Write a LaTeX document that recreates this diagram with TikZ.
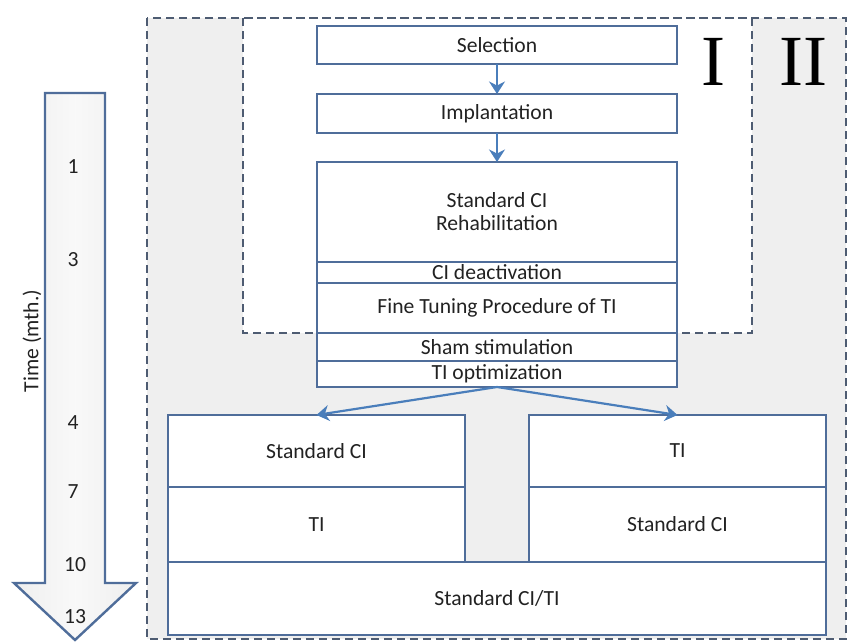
\documentclass[tikz,border=0pt]{standalone}
\usepackage{fontspec}
\setmainfont{Carlito}
\newfontfamily\romanfont{Liberation Serif}
\usetikzlibrary{arrows.meta, positioning}
\definecolor{boxblue}{HTML}{4F6D9A}
\definecolor{arrowblue}{HTML}{4A7EBB}
\definecolor{dashgray}{HTML}{4E5C72}
\definecolor{phasegray}{HTML}{EFEFEF}
\definecolor{textgray}{HTML}{222222}
\tikzset{>={Stealth[width=2.8mm,length=2.2mm]}}
\tikzset{
	stage/.style = {draw = boxblue, line width = 1.2pt, fill = white, inner sep = 0pt, outer sep = 0pt,
		minimum width = 180pt, align = center, text = textgray, font = \fontsize{10.8}{11.5}\selectfont},
	arm/.style = {stage, minimum width = 148.5pt},
	phase/.style = {draw = dashgray, line width = 1.1pt, dash pattern = on 4pt off 2.5pt},
	flow/.style = {->, arrowblue, line width = 1.1pt},
	month/.style = {text = textgray, font = \fontsize{10.8}{12}\selectfont},
	roman/.style = {text = black, font = \romanfont\fontsize{36}{36}\selectfont}
}

\begin{document}
\begin{tikzpicture}[x = 0.5pt, y = -0.5pt, node distance = 0pt]
		\useasboundingbox (0,0) rectangle (850,642);
		% phases I and II
		\fill[phasegray] (147,18) rectangle (846,639);
		\fill[white] (243,18) rectangle (752,333);
		\draw[phase] (147,18) rectangle (846,639);
		\draw[phase] (243,18) rectangle (752,333);
		\node (labI) [roman] at (713,62) {I};
		\node (labII) [roman] at (803,62) {II};
		% time axis
		\draw[draw = boxblue, line width = 1.2pt, left color = gray!13, right color = gray!13, middle color = gray!5]
		(45,93) -- (105,93) -- (105,583) -- (136,583) -- (75,640) -- (14,583) -- (45,583) -- cycle;
		\node (timelbl) [month, rotate = 90] at (32,341) {Time (mth.)};
		\node (m1) [month] at (73,167) {1};
		\node (m3) [month] at (73,260) {3};
		\node (m4) [month] at (73,423) {4};
		\node (m7) [month] at (73,492) {7};
		\node (m10) [month] at (75,565) {10};
		\node (m13) [month] at (75,617) {13};
		% phase I stages
		\node (sel) [stage, minimum height = 19pt] at (497,45) {Selection};
		\node (impl) [stage, minimum height = 19.5pt] at (497,113.5) {Implantation};
		\node (rehab) [stage, minimum height = 50pt] at (497,212) {Standard CI\\Rehabilitation};
		\node (deact) [stage, minimum height = 10.5pt, below = of rehab] {CI deactivation};
		\node (tune) [stage, minimum height = 25pt, below = of deact] {Fine Tuning Procedure of TI};
		\node (sham) [stage, minimum height = 14pt, below = of tune] {Sham stimulation};
		\node (opt) [stage, minimum height = 13pt, below = of sham] {TI optimization};
		% phase II cross-over arms
		\node (armA1) [arm, minimum height = 36pt] at (316.5,451) {Standard CI};
		\node (armA2) [arm, minimum height = 37.5pt, below = of armA1] {TI};
		\node (armB1) [arm, minimum height = 36pt] at (677.5,451) {TI};
		\node (armB2) [arm, minimum height = 37.5pt, below = of armB1] {Standard CI};
		\node (follow) [stage, minimum width = 329pt, minimum height = 36.5pt] at (497,598.5) {Standard CI/TI};
		\path[flow]
		(sel) edge (impl)
		(impl) edge (rehab)
		(opt.south) edge (armA1.north)
		(opt.south) edge (armB1.north);
\end{tikzpicture}
\end{document}
